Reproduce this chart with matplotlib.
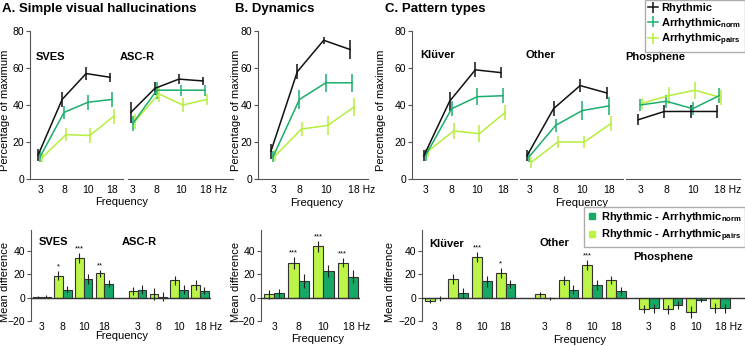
import numpy as np
import matplotlib
matplotlib.use("Agg")
import matplotlib.pyplot as plt
from matplotlib.lines import Line2D
from matplotlib.transforms import ScaledTranslation

plt.rcParams['font.family'] = 'Liberation Sans'
plt.rcParams['mathtext.fontset'] = 'custom'
plt.rcParams['mathtext.rm'] = 'Liberation Sans'
plt.rcParams['mathtext.bf'] = 'Liberation Sans:bold'

W, H = 745, 346

freqs = ['3', '8', '10', '18']
freqs_hz = ['3', '8', '10', '18 Hz']

# ---- top row: percentage of maximum ----
sves_rhy, sves_rhy_e = [13, 43, 57, 55], [3, 4, 3.5, 2.5]
sves_norm, sves_norm_e = [12, 36, 41.5, 43], [3, 3.5, 4, 4]
sves_pairs, sves_pairs_e = [11.5, 24, 23.5, 34], [2.5, 3.5, 4, 4]

ascr_rhy, ascr_rhy_e = [36, 49, 54, 53], [5.5, 3.5, 2.5, 2]
ascr_norm, ascr_norm_e = [30, 48, 48, 48], [4, 4.5, 3, 3]
ascr_pairs, ascr_pairs_e = [31, 46, 40, 43], [4, 4.5, 4, 3]

dyn_rhy, dyn_rhy_e = [15, 58, 75, 70], [4, 4, 2, 5]
dyn_norm, dyn_norm_e = [12, 43, 52, 52], [3, 5, 5, 5]
dyn_pairs, dyn_pairs_e = [12.5, 27, 29, 39], [3, 4, 5, 5]

klu_rhy, klu_rhy_e = [12.5, 42, 59, 57.5], [3, 5, 4, 3]
klu_norm, klu_norm_e = [13, 38, 44.5, 45], [3, 4, 4.5, 4]
klu_pairs, klu_pairs_e = [15, 26, 24.5, 36], [3, 4.5, 4.5, 4]

oth_rhy, oth_rhy_e = [12.5, 38, 50.5, 46.5], [3, 4, 3.5, 3.5]
oth_norm, oth_norm_e = [12, 29, 37, 39.5], [3, 3.5, 5, 5]
oth_pairs, oth_pairs_e = [9, 20, 20, 30], [3, 3, 3, 4]

pho_rhy, pho_rhy_e = [32, 36.5, 36.5, 36.5], [3, 3.5, 3.5, 3.5]
pho_norm, pho_norm_e = [40, 42, 38, 45], [3, 3.5, 3.5, 4]
pho_pairs, pho_pairs_e = [41, 45, 48, 44], [3, 4.5, 4.5, 4]

# ---- bottom row: mean difference ----
a_pairs = [0.5, 19, 34, 21, 6, 3, 15, 11]
a_pairs_e = [1, 3.5, 4, 3, 3.5, 5, 4, 4]
a_norm = [1, 7, 16, 12, 7, 1, 7, 6]
a_norm_e = [1.5, 3, 4, 3, 4, 3.5, 3.5, 3]
a_stars = ['', '*', '***', '**', '', '', '', '']

b_pairs = [3, 30, 44, 30]
b_pairs_e = [4, 5, 5, 4]
b_norm = [4, 14, 23, 18]
b_norm_e = [3.5, 6, 5, 5.5]
b_stars = ['', '***', '***', '***']

c_pairs = [-3, 16, 35, 21, 3, 15, 28, 15, -10, -10, -12, -9]
c_pairs_e = [1.5, 4.5, 4.5, 4.5, 2, 4, 4, 3.5, 3.5, 4, 5, 4.5]
c_norm = [-0.5, 4, 14, 12, -0.5, 7, 11, 6, -9, -6, -2, -9]
c_norm_e = [2, 4, 4.5, 3.5, 1.5, 4, 4.5, 3.5, 4, 3.5, 2, 4]
c_stars = ['', '', '***', '*', '', '', '***', '', '', '', '', '']

col_rhy = '#111111'
col_norm = '#1aae6c'
col_pairs = '#b6ee3c'
bar_norm = '#16a865'
bar_pairs = '#bcf547'
spine_col = '#555555'

fig = plt.figure(figsize=(W / 100, H / 100), dpi=100)


def px_axes(x0, x1, y0, y1):
    return fig.add_axes([x0 / W, 1 - y1 / H, (x1 - x0) / W, (y1 - y0) / H])


def ftext(x, y, s, **kw):
    fig.text(x / W, 1 - y / H, s, **kw)


def fix_hz(ax):
    # keep the "18" of "18 Hz" centred on its tick
    for lab in ax.get_xticklabels():
        if lab.get_text().endswith('Hz'):
            lab.set_ha('left')
            lab.set_transform(lab.get_transform() + ScaledTranslation(-0.045, 0, fig.dpi_scale_trans))


def top_panel(x0, x1, xlim, series, show_y, labels):
    ax = px_axes(x0, x1, 31, 179)
    x = np.arange(4)
    hs = []
    offs = [0.08, 0.0, -0.08]
    for (vals, err, col), off in zip(series, offs):
        h = ax.errorbar(x + off, vals, yerr=err, color=col, lw=1.1,
                        elinewidth=1.1, capsize=0)
        hs.append(h)
    ax.set_xlim(xlim)
    ax.set_ylim(0, 80)
    for s in ['top', 'right']:
        ax.spines[s].set_visible(False)
    ax.spines['bottom'].set_color(spine_col)
    ax.spines['left'].set_color(spine_col)
    ax.set_xticks(x)
    ax.set_xticklabels(labels, fontsize=7.5)
    ax.tick_params(axis='x', length=0, pad=4)
    fix_hz(ax)
    if show_y:
        ax.set_yticks([0, 20, 40, 60, 80])
        ax.tick_params(axis='y', labelsize=7.5, length=3, pad=1, color=spine_col)
    else:
        ax.spines['left'].set_visible(False)
        ax.set_yticks([])
    return hs


def bottom_panel(x0, x1, xlim, pos, pairs, pairs_e, norm, norm_e, stars, labels):
    ax = px_axes(x0, x1, 230, 321)
    pos = np.array(pos)
    w = 0.42
    ax.bar(pos - w / 2, pairs, w, yerr=pairs_e, color=bar_pairs, edgecolor='#333333',
           lw=0.8, error_kw=dict(lw=0.8, ecolor='#222222', capsize=0), zorder=2)
    ax.bar(pos + w / 2, norm, w, yerr=norm_e, color=bar_norm, edgecolor='#333333',
           lw=0.8, error_kw=dict(lw=0.8, ecolor='#222222', capsize=0), zorder=2)
    for p, v, e, s in zip(pos, pairs, pairs_e, stars):
        if s:
            ax.text(p - w / 2, v + e + 0.5, s, ha='center', va='bottom', fontsize=5.5)
    ax.axhline(0, color='#333333', lw=1, zorder=3)
    ax.set_xlim(xlim)
    ax.set_ylim(-20, 58)
    for s in ['top', 'right', 'bottom']:
        ax.spines[s].set_visible(False)
    ax.spines['left'].set_color(spine_col)
    ax.set_yticks([-20, 0, 20, 40])
    ax.tick_params(axis='y', labelsize=7.5, length=3, pad=1, color=spine_col)
    ax.set_xticks(pos)
    ax.set_xticklabels(labels, fontsize=7.5)
    ax.tick_params(axis='x', length=0, pad=1)
    fix_hz(ax)
    return ax


# top row
hs = top_panel(30, 123, (-0.42, 3.46),
               [(sves_pairs, sves_pairs_e, col_pairs), (sves_norm, sves_norm_e, col_norm),
                (sves_rhy, sves_rhy_e, col_rhy)], True, freqs)
top_panel(128, 233, (-0.2, 4.17),
          [(ascr_pairs, ascr_pairs_e, col_pairs), (ascr_norm, ascr_norm_e, col_norm),
           (ascr_rhy, ascr_rhy_e, col_rhy)], False, freqs_hz)
top_panel(258, 368, (-0.57, 3.6),
          [(dyn_pairs, dyn_pairs_e, col_pairs), (dyn_norm, dyn_norm_e, col_norm),
           (dyn_rhy, dyn_rhy_e, col_rhy)], True, freqs_hz)
top_panel(412, 517, (-0.54, 3.54),
          [(klu_pairs, klu_pairs_e, col_pairs), (klu_norm, klu_norm_e, col_norm),
           (klu_rhy, klu_rhy_e, col_rhy)], True, freqs)
top_panel(520, 623, (-0.34, 3.53),
          [(oth_pairs, oth_pairs_e, col_pairs), (oth_norm, oth_norm_e, col_norm),
           (oth_rhy, oth_rhy_e, col_rhy)], False, freqs)
top_panel(626, 740, (-0.54, 3.8),
          [(pho_pairs, pho_pairs_e, col_pairs), (pho_norm, pho_norm_e, col_norm),
           (pho_rhy, pho_rhy_e, col_rhy)], False, freqs_hz)

# bottom row
bottom_panel(31, 211, (-0.53, 8.13), [0, 1, 2, 3, 4.6, 5.6, 6.6, 7.6],
             a_pairs, a_pairs_e, a_norm, a_norm_e, a_stars, freqs + freqs_hz)
bottom_panel(261, 360, (-0.53, 3.49), [0, 1, 2, 3],
             b_pairs, b_pairs_e, b_norm, b_norm_e, b_stars, freqs_hz)
bottom_panel(422, 745, (-0.54, 13.15),
             [0, 1, 2, 3, 4.67, 5.67, 6.67, 7.67, 9.08, 10.08, 11.08, 12.08],
             c_pairs, c_pairs_e, c_norm, c_norm_e, c_stars, freqs + freqs + freqs_hz)

# titles and labels
ftext(2, 9, 'A. Simple visual hallucinations', fontsize=9.5, fontweight='bold', va='center')
ftext(235, 9, 'B. Dynamics', fontsize=9.5, fontweight='bold', va='center')
ftext(385, 9, 'C. Pattern types', fontsize=9.5, fontweight='bold', va='center')

for x in [5, 236, 381]:
    ftext(x, 110, 'Percentage of maximum', fontsize=8, rotation=90, ha='center', va='center')
for x in [5, 236, 390]:
    ftext(x, 282, 'Mean difference', fontsize=8, rotation=90, ha='center', va='center')

for x, y in [(122, 202), (317, 203), (582, 203), (122, 336), (318, 339), (580, 340)]:
    ftext(x, y, 'Frequency', fontsize=8, ha='center', va='center')

for x, y, s in [(36, 57, 'SVES'), (120, 57, 'ASC-R'), (420, 55, 'Klüver'),
                (525, 55, 'Other'), (625, 57, 'Phosphene'),
                (39, 242, 'SVES'), (122, 242, 'ASC-R'), (429, 244, 'Klüver'),
                (540, 243, 'Other'), (633, 257, 'Phosphene')]:
    ftext(x, y, s, fontsize=8, fontweight='bold', va='center')

# legends
leg1 = fig.legend(hs[::-1], ['Rhythmic', r'Arrhythmic$_{\mathbf{norm}}$',
                             r'Arrhythmic$_{\mathbf{pairs}}$'],
                  loc='upper right', bbox_to_anchor=(1.0, 1.0), frameon=True, fancybox=False,
                  edgecolor='#999999', prop=dict(size=8, weight='bold'), handlelength=0.9,
                  handletextpad=0.3, labelspacing=0.2, borderpad=0.3, borderaxespad=0)
leg1.get_frame().set_linewidth(1)

sq = [Line2D([], [], ls='', marker='s', ms=4.5, color=bar_norm),
      Line2D([], [], ls='', marker='s', ms=4.5, color=bar_pairs)]
leg2 = fig.legend(sq, [r'Rhythmic - Arrhythmic$_{\mathbf{norm}}$',
                       r'Rhythmic - Arrhythmic$_{\mathbf{pairs}}$'],
                  loc='upper right', bbox_to_anchor=(1.0, 1 - 207 / H), frameon=True,
                  fancybox=False, edgecolor='#999999', prop=dict(size=8, weight='bold'),
                  handlelength=0.8, handletextpad=0.4, labelspacing=0.3, borderpad=0.3,
                  borderaxespad=0)
leg2.get_frame().set_linewidth(1)

fig.savefig('out.png', dpi=100)
